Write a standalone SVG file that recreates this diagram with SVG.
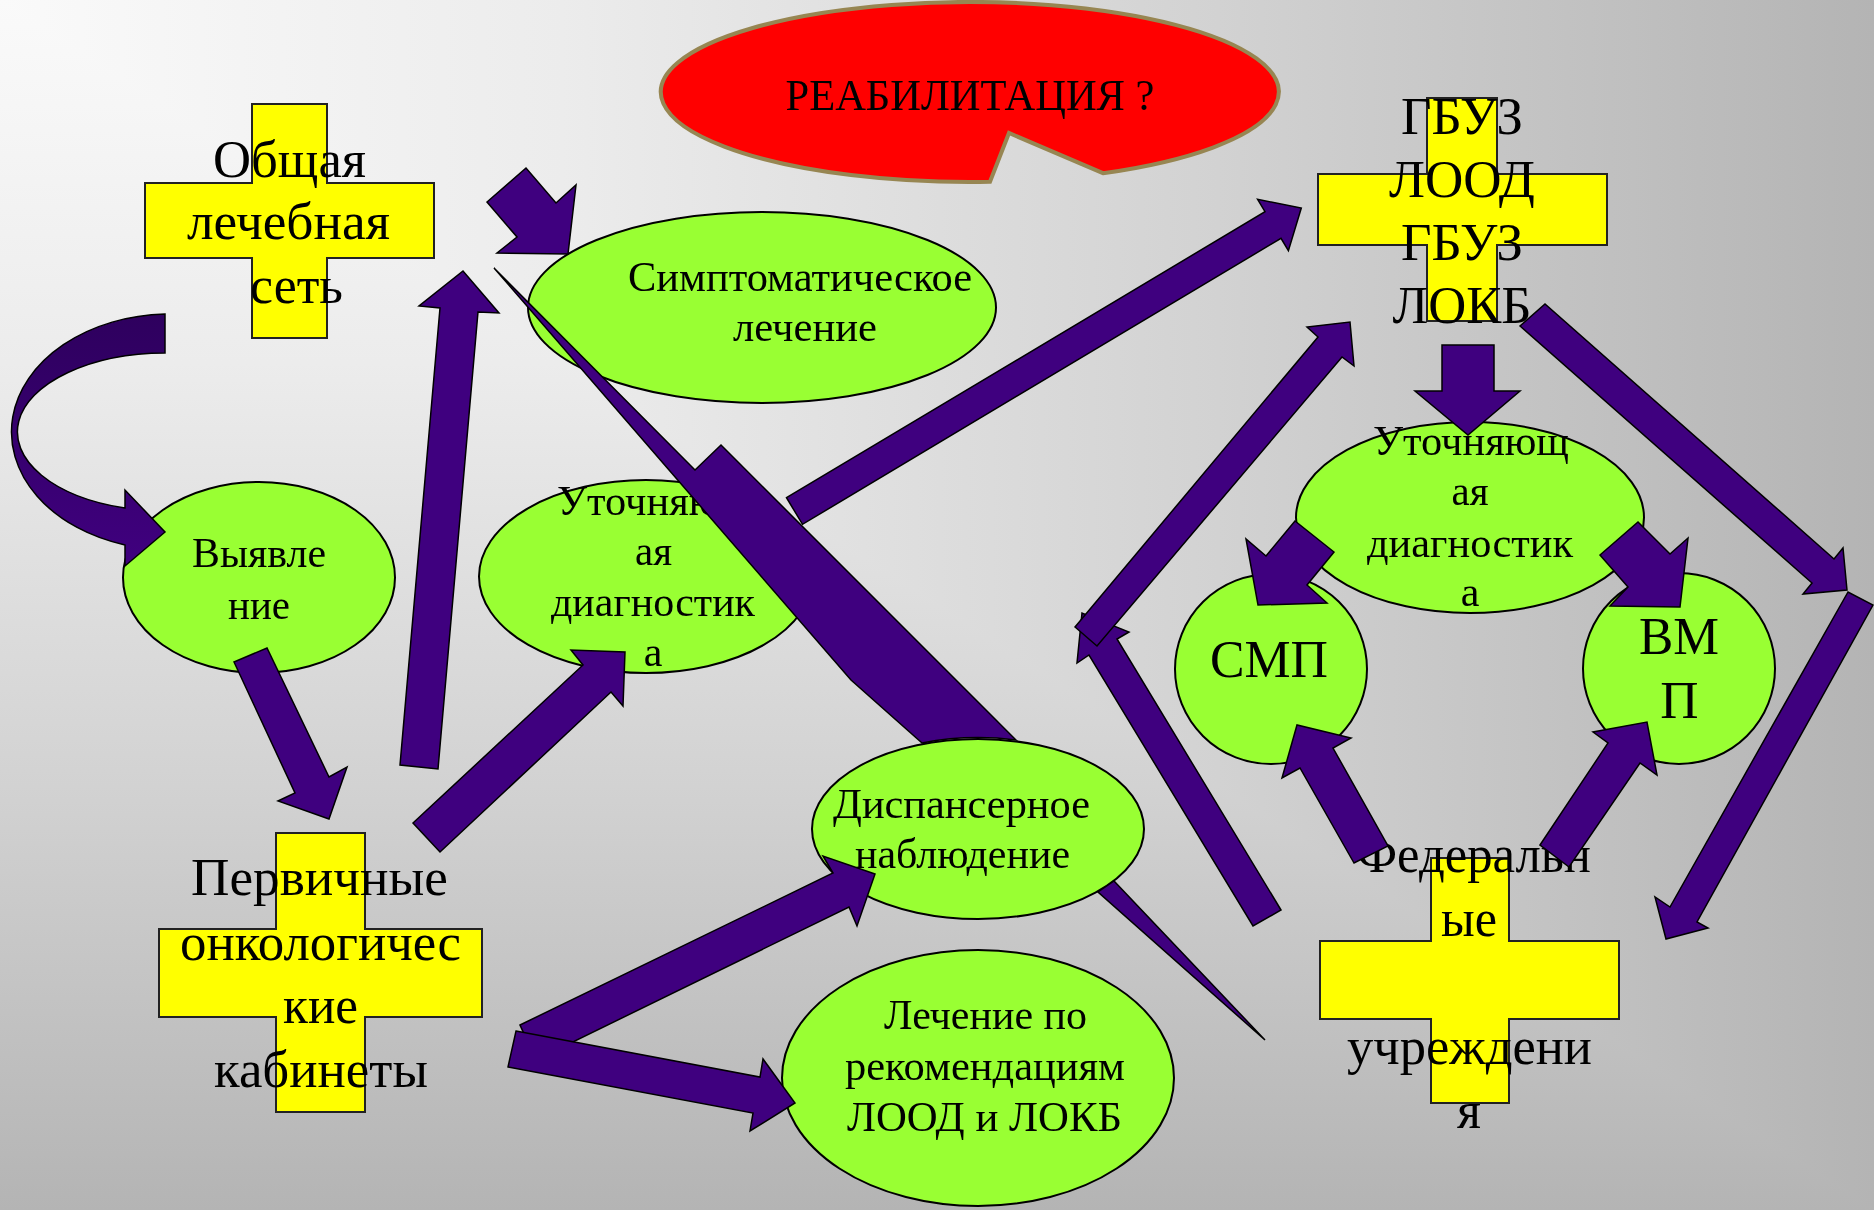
<svg xmlns="http://www.w3.org/2000/svg" width="1874" height="1210" viewBox="0 0 1874 1210">
<style>
.arr{fill:#3f007f;stroke:#000;stroke-width:1.5;stroke-linejoin:miter}
.ell{fill:#99ff33;stroke:#000;stroke-width:2}
.cross{fill:#ffff00;stroke:#222;stroke-width:2}
.t{font-family:"Liberation Serif","Times New Roman",serif;fill:#000}
.f42{font-size:42px}
.f52{font-size:52px}
.f53{font-size:53px}
</style>
<defs>
<linearGradient id="bgx" x1="0" y1="0" x2="1874" y2="0" gradientUnits="userSpaceOnUse">
<stop offset="0" stop-color="#fafafa"/><stop offset="0.3" stop-color="#ececec"/><stop offset="0.65" stop-color="#d2d2d2"/><stop offset="1" stop-color="#b4b4b4"/>
</linearGradient>
<linearGradient id="bgy" x1="0" y1="0" x2="0" y2="1210" gradientUnits="userSpaceOnUse">
<stop offset="0" stop-color="#fafafa"/><stop offset="0.3" stop-color="#ececec"/><stop offset="0.65" stop-color="#d2d2d2"/><stop offset="1" stop-color="#b4b4b4"/>
</linearGradient>
<linearGradient id="curv" x1="0" y1="314" x2="0" y2="566" gradientUnits="userSpaceOnUse">
<stop offset="0" stop-color="#2e005e"/><stop offset="0.5" stop-color="#36006e"/><stop offset="1" stop-color="#40007f"/>
</linearGradient>
</defs>
<rect x="0" y="0" width="1874" height="1210" fill="url(#bgx)"/>
<rect x="0" y="0" width="1874" height="1210" fill="url(#bgy)" style="mix-blend-mode:darken"/>

<g id="n-reab">
<path d="M1103,173.2 A309,90 0 1 0 990,181.8 L1009,133 Z" fill="#ff0000" stroke="#978652" stroke-width="4" stroke-linejoin="miter"/>
<text class="t" x="970" y="110" font-size="45" text-anchor="middle" textLength="369" lengthAdjust="spacingAndGlyphs">РЕАБИЛИТАЦИЯ ?</text>
</g>

<g id="n-obshchaya">
<path class="cross" d="M252,104 H327 V183 H434 V258 H327 V338 H252 V258 H145 V183 H252 Z"/>
<text class="t f52" x="289.5" y="177" text-anchor="middle" textLength="153" lengthAdjust="spacingAndGlyphs">Общая</text>
<text class="t f52" x="288.5" y="239" text-anchor="middle" textLength="203" lengthAdjust="spacingAndGlyphs">лечебная</text>
<text class="t f52" x="296.5" y="303" text-anchor="middle" textLength="93" lengthAdjust="spacingAndGlyphs">сеть</text>
</g>

<g id="n-gbuz">
<path class="cross" d="M1427,98 H1497 V174 H1607 V245 H1497 V321 H1427 V245 H1318 V174 H1427 Z"/>
<text class="t f52" x="1462" y="134" text-anchor="middle" textLength="122" lengthAdjust="spacingAndGlyphs">ГБУЗ</text>
<text class="t f52" x="1462" y="197" text-anchor="middle" textLength="146" lengthAdjust="spacingAndGlyphs">ЛООД</text>
<text class="t f52" x="1462" y="260" text-anchor="middle" textLength="122" lengthAdjust="spacingAndGlyphs">ГБУЗ</text>
<text class="t f52" x="1462" y="323" text-anchor="middle" textLength="139" lengthAdjust="spacingAndGlyphs">ЛОКБ</text>
</g>

<g id="n-pervichnye">
<path class="cross" d="M276,833 H365 V929 H482 V1017 H365 V1112 H276 V1017 H159 V929 H276 Z"/>
<text class="t f52" x="319.5" y="895" text-anchor="middle" textLength="257" lengthAdjust="spacingAndGlyphs">Первичные</text>
<text class="t f52" x="320.5" y="960" text-anchor="middle" textLength="281" lengthAdjust="spacingAndGlyphs">онкологичес</text>
<text class="t f52" x="320.5" y="1023" text-anchor="middle" textLength="75" lengthAdjust="spacingAndGlyphs">кие</text>
<text class="t f52" x="321" y="1087" text-anchor="middle" textLength="214" lengthAdjust="spacingAndGlyphs">кабинеты</text>
</g>

<g id="n-federal">
<path class="cross" d="M1431,858 H1509 V941 H1619 V1019 H1509 V1103 H1431 V1019 H1320 V941 H1431 Z"/>
<text class="t f52" x="1474" y="872" text-anchor="middle" textLength="234" lengthAdjust="spacingAndGlyphs">Федеральн</text>
<text class="t f52" x="1469" y="936" text-anchor="middle" textLength="56" lengthAdjust="spacingAndGlyphs">ые</text>
<text class="t f52" x="1469.5" y="1064" text-anchor="middle" textLength="245" lengthAdjust="spacingAndGlyphs">учреждени</text>
<text class="t f52" x="1469" y="1128" text-anchor="middle">я</text>
</g>

<g id="n-simpt">
<ellipse class="ell" cx="762" cy="307.5" rx="234" ry="95.5"/>
<text class="t f42" x="800" y="291" text-anchor="middle" textLength="344" lengthAdjust="spacingAndGlyphs">Симптоматическое</text>
<text class="t f42" x="805" y="341" text-anchor="middle" textLength="144" lengthAdjust="spacingAndGlyphs">лечение</text>
</g>

<g id="n-vyyavlenie">
<ellipse class="ell" cx="259" cy="577.5" rx="136" ry="95.5"/>
<text class="t f42" x="259" y="567" text-anchor="middle" textLength="134" lengthAdjust="spacingAndGlyphs">Выявле</text>
<text class="t f42" x="259" y="619" text-anchor="middle" textLength="62" lengthAdjust="spacingAndGlyphs">ние</text>
</g>

<g id="n-utoch-left">
<ellipse class="ell" cx="646" cy="576.5" rx="167" ry="96.5"/>
<text class="t f42" x="655" y="515" text-anchor="middle" textLength="196" lengthAdjust="spacingAndGlyphs">Уточняющ</text>
<text class="t f42" x="653.5" y="565" text-anchor="middle" textLength="37" lengthAdjust="spacingAndGlyphs">ая</text>
<text class="t f42" x="653" y="616" text-anchor="middle" textLength="204" lengthAdjust="spacingAndGlyphs">диагностик</text>
<text class="t f42" x="653" y="666" text-anchor="middle">а</text>
</g>

<g id="n-utoch-right">
<ellipse class="ell" cx="1470" cy="517.5" rx="174" ry="95.5"/>
<text class="t f42" x="1471" y="455" text-anchor="middle" textLength="196" lengthAdjust="spacingAndGlyphs">Уточняющ</text>
<text class="t f42" x="1470" y="505" text-anchor="middle" textLength="37" lengthAdjust="spacingAndGlyphs">ая</text>
<text class="t f42" x="1470" y="557" text-anchor="middle" textLength="206" lengthAdjust="spacingAndGlyphs">диагностик</text>
<text class="t f42" x="1470" y="606" text-anchor="middle">а</text>
</g>

<g id="n-smp">
<ellipse class="ell" cx="1271" cy="669" rx="96" ry="95"/>
<text class="t f53" x="1269" y="677" text-anchor="middle" textLength="118" lengthAdjust="spacingAndGlyphs">СМП</text>
</g>

<g id="n-vmp">
<ellipse class="ell" cx="1679" cy="668.5" rx="96" ry="95.5"/>
<text class="t f53" x="1679" y="654" text-anchor="middle" textLength="80" lengthAdjust="spacingAndGlyphs">ВМ</text>
<text class="t f53" x="1679.5" y="718" text-anchor="middle">П</text>
</g>

<g id="n-dispanser">
<ellipse class="ell" cx="978" cy="829" rx="166" ry="90"/>
<text class="t f42" x="961.5" y="818" text-anchor="middle" textLength="257" lengthAdjust="spacingAndGlyphs">Диспансерное</text>
<text class="t f42" x="962.5" y="868" text-anchor="middle" textLength="215" lengthAdjust="spacingAndGlyphs">наблюдение</text>
</g>

<g id="n-lechenie">
<ellipse class="ell" cx="978" cy="1078" rx="196" ry="128"/>
<text class="t f42" x="985.5" y="1029" text-anchor="middle" textLength="203" lengthAdjust="spacingAndGlyphs">Лечение по</text>
<text class="t f42" x="985" y="1080" text-anchor="middle" textLength="280" lengthAdjust="spacingAndGlyphs">рекомендациям</text>
<text class="t f42" x="984.5" y="1131" text-anchor="middle" textLength="275" lengthAdjust="spacingAndGlyphs">ЛООД и ЛОКБ</text>
</g>

<g id="connectors">
<path d="M165,314 A159,118 0 0 0 125,545 L125,566 L165,532 L125,490 L125,508 A148,79 0 0 1 165,353 Z" fill="url(#curv)" stroke="#000" stroke-width="1.5"/>
<polygon class="arr" points="234,662 267,648 329,777 347,767 329,819 278,801 295,793"/>
<polygon class="arr" points="400,765 440,308 419,306 463,271 499,313 478,312 438,769"/>
<polygon class="arr" points="413,823 583,665 571,650 625,652 623,706 611,692 440,852"/>
<polygon class="arr" points="487,202 526,168 556,203 576,185 568,254 497,253 517,237"/>
<polygon class="arr" points="786.5,497.7 1265,211.7 1257.6,199.3 1301.3,208 1288.4,250.7 1281,238.3 802.5,524.3"/>
<path class="arr" d="M494,268 L695,470 L721,445 L1016,740 A166,90 0 0 0 922,743 L851,680 Z"/>
<polygon class="arr" points="1098,892 1114,881 1265,1040"/>
<polygon class="arr" points="1520,326 1812,583 1803,594 1847,590 1843,548 1834,559 1545,304"/>
<polygon class="arr" points="1848,592 1670,907 1655,897 1666,939 1708,928 1697,922 1873,605"/>
<polygon class="arr" points="1442,345 1494,345 1494,391 1520,391 1468,435 1415,391 1442,391"/>
<polygon class="arr" points="1295,521 1266,556 1246,539 1258,605 1327,603 1307,585 1334,552"/>
<polygon class="arr" points="1600,555 1638,522 1670,554 1688,538 1680,607 1610,606 1628,587"/>
<polygon class="arr" points="1354,863 1300,768 1282,778 1297,725 1351,738 1333,748 1388,846"/>
<polygon class="arr" points="1540,845 1608,743 1593,732 1647,722 1657,775 1640,763 1569,867"/>
<polygon class="arr" points="1281,910 1117,639 1129,632 1082,613 1077,663 1089,655 1253,926"/>
<polygon class="arr" points="1075,627 1318,337 1307,327 1350,322 1354,366 1342,357 1097,646"/>
<polygon class="arr" points="520,1025 833,873 823,856 875,874 857,926 849,907 536,1060"/>
<polygon class="arr" points="516,1031 760,1077 763,1059 795,1103 750,1131 753,1113 508,1067"/>
</g>
</svg>
